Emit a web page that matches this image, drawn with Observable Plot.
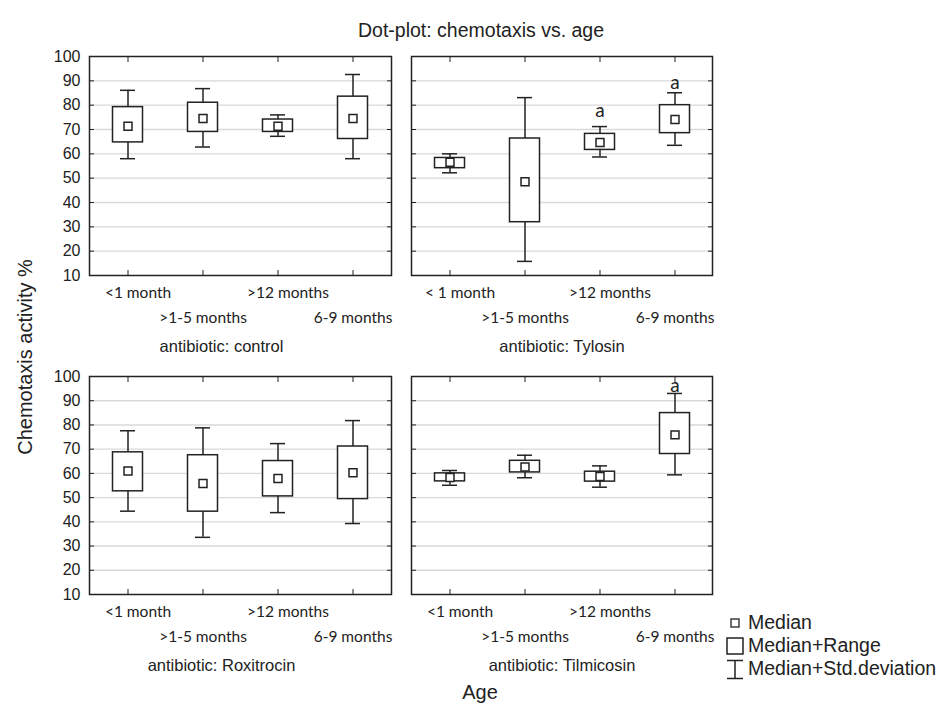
<!DOCTYPE html>
<html>
<head>
<meta charset="utf-8">
<script src="https://cdn.jsdelivr.net/npm/d3@7"></script>
<script src="https://cdn.jsdelivr.net/npm/@observablehq/plot@0.6"></script>
<style>
  html, body { margin: 0; padding: 0; background: #ffffff; }
  #wrap { position: relative; width: 945px; height: 714px; background: #ffffff; overflow: hidden;
          font-family: "Liberation Sans", Arial, sans-serif; color: #222; }
  .abs { position: absolute; }
  #title { left: 0; width: 962px; top: 19px; text-align: center; font-size: 19.5px; }
  #ylab { left: 25px; top: 357px; transform: translate(-50%, -50%) rotate(-90deg); font-size: 20px; white-space: nowrap; }
  #xlab { left: 480px; top: 692px; transform: translate(-50%, -50%); font-size: 20px; }
  #legend { left: 724px; top: 611px; font-size: 19.5px; line-height: 23px; }
  #legend div { display: flex; align-items: center; white-space: nowrap; }
  #legend svg { width: 22px; height: 22px; flex: none; }
</style>
</head>
<body>
<div id="wrap">
  <div id="title" class="abs">Dot-plot: chemotaxis vs. age</div>
  <div id="ylab" class="abs">Chemotaxis activity %</div>
  <div id="xlab" class="abs">Age</div>
  <div id="legend" class="abs"></div>
</div>
<script>
// ---- data ----
const categories = ["<1 month", ">1-5 months", ">12 months", "6-9 months"];
const antibiotics = ["control", "Tylosin", "Roxitrocin", "Tilmicosin"];
const medians      = [[71.3, 74.5, 71.3, 74.5], [56.5, 48.5, 64.7, 74.1], [61.0, 55.8, 57.9, 60.3], [58.3, 62.6, 58.7, 75.9]];
const rangeLow     = [[64.7, 69.0, 69.0, 66.1], [54.1, 31.9, 61.6, 68.5], [52.6, 44.2, 50.5, 49.4], [56.7, 60.4, 56.6, 68.0]];
const rangeHigh    = [[79.2, 81.0, 74.1, 83.5], [58.3, 66.3, 68.2, 80.0], [68.7, 67.5, 65.1, 71.1], [60.0, 65.2, 60.7, 84.9]];
const sdLow        = [[58.0, 62.8, 67.2, 58.0], [52.2, 15.8, 58.7, 63.5], [44.4, 33.6, 43.8, 39.3], [55.1, 58.2, 54.3, 59.4]];
const sdHigh       = [[86.1, 86.8, 76.0, 92.6], [60.0, 83.1, 71.2, 85.1], [77.6, 78.8, 72.3, 81.8], [61.2, 67.5, 63.1, 93.0]];
const letterPanel  = ["Tylosin", "Tylosin", "Tilmicosin"];
const letterCat    = [">12 months", "6-9 months", "6-9 months"];
const letterY      = [77.6, 89.0, 96.3];
const yTicks = [10, 20, 30, 40, 50, 60, 70, 80, 90, 100];
const gridTicks = [20, 30, 40, 50, 60, 70, 80, 90];

const catFont = "Lato, 'Open Sans', sans-serif";
const ink = "#222";

// panel layout
const layout = [
  {left: 0,   top: 40,  width: 400, ml: 89, mr: 9, height: 320, showY: true,  labDx: -19},
  {left: 400, top: 40,  width: 320, ml: 11, mr: 8, height: 320, showY: false, labDx: 0},
  {left: 0,   top: 360, width: 400, ml: 89, mr: 9, height: 319, showY: true,  labDx: -19},
  {left: 400, top: 360, width: 320, ml: 11, mr: 8, height: 319, showY: false, labDx: 0}
];

const wrap = document.getElementById("wrap");

antibiotics.forEach((ab, p) => {
  const L = layout[p];
  const rows = categories.map((c, i) => ({
    cat: c, med: medians[p][i], lo: rangeLow[p][i], hi: rangeHigh[p][i], sdl: sdLow[p][i], sdh: sdHigh[p][i]
  }));
  const letters = letterPanel.map((lp, i) => ({lp, cat: letterCat[i], y: letterY[i]})).filter(d => d.lp === ab);
  const fmt = (ab === "Tylosin") ? (d => d === "<1 month" ? "< 1 month" : d) : (d => d);
  const row1 = [categories[0], categories[2]];
  const row2 = [categories[1], categories[3]];

  const marks = [
    Plot.gridY(gridTicks, {stroke: "#d9d9d9", strokeOpacity: 1, strokeWidth: 1.4}),
    // inward ticks on all sides
    Plot.axisY(yTicks.slice(1, -1), {anchor: "left", tickSize: -5, tickFormat: () => "", label: null, stroke: ink}),
    Plot.axisY(yTicks.slice(1, -1), {anchor: "right", tickSize: -5, tickFormat: () => "", label: null, stroke: ink}),
    Plot.axisX(categories, {anchor: "bottom", tickSize: -5, tickFormat: () => "", label: null, stroke: ink}),
    Plot.axisX(categories, {anchor: "top", tickSize: -5, tickFormat: () => "", label: null, stroke: ink}),
    // category labels, staggered
    Plot.axisX(row1, {anchor: "bottom", tickSize: 0, tickPadding: 11, dx: 10, tickFormat: fmt, label: null,
      fontSize: 15.5, fontFamily: catFont, fill: ink}),
    Plot.axisX(row2, {anchor: "bottom", tickSize: 0, tickPadding: 36, tickFormat: fmt, label: null,
      fontSize: 15.5, fontFamily: catFont, fill: ink}),
    // whiskers (std. deviation)
    Plot.ruleX(rows, {x: "cat", y1: "sdl", y2: "sdh", stroke: ink, strokeWidth: 1.5}),
    Plot.tickY(rows, {x: "cat", y: "sdh", inset: 30, stroke: ink, strokeWidth: 1.5}),
    Plot.tickY(rows, {x: "cat", y: "sdl", inset: 30, stroke: ink, strokeWidth: 1.5}),
    // boxes (range)
    Plot.barY(rows, {x: "cat", y1: "lo", y2: "hi", insetLeft: 22.5, insetRight: 22.5, fill: "white", stroke: ink, strokeWidth: 1.5}),
    // medians
    Plot.dot(rows, {x: "cat", y: "med", symbol: "square", r: 4.5, fill: "white", stroke: ink, strokeWidth: 1.5}),
    // significance letters
    Plot.text(letters, {x: "cat", y: "y", text: () => "a", fontSize: 19, fontFamily: catFont, fill: ink}),
    Plot.frame({stroke: ink, strokeWidth: 1.5}),
    // panel label
    Plot.text(["antibiotic: " + ab], {frameAnchor: "bottom", dy: 76, dx: L.labDx, fontSize: 16.5,
      fontFamily: "'Liberation Sans', Arial, sans-serif", fill: ink})
  ];
  if (L.showY) {
    marks.push(Plot.axisY(yTicks, {anchor: "left", tickSize: 0, tickPadding: 9, label: null, fontSize: 16,
      fontFamily: "'Liberation Sans', Arial, sans-serif", fill: ink}));
  }

  const chart = Plot.plot({
    width: L.width,
    height: L.height,
    marginLeft: L.ml,
    marginRight: L.mr,
    marginTop: 16,
    marginBottom: 85,
    style: {background: "transparent", overflow: "visible"},
    x: {type: "band", domain: categories, padding: 0, axis: null, label: null},
    y: {domain: [10, 100], axis: null, label: null},
    marks
  });
  chart.style.position = "absolute";
  chart.style.left = L.left + "px";
  chart.style.top = L.top + "px";
  wrap.appendChild(chart);
});

// legend
const legendItems = ["Median", "Median+Range", "Median+Std.deviation"];
const icons = [
  '<rect x="7" y="7" width="8" height="8" fill="white" stroke="#222" stroke-width="1.3"/>',
  '<rect x="3" y="3" width="16" height="16" fill="white" stroke="#222" stroke-width="1.5"/>',
  '<path d="M3,2.5H19M11,2.5V20.5M3,20.5H19" fill="none" stroke="#222" stroke-width="1.5"/>'
];
const legend = document.getElementById("legend");
legendItems.forEach((t, i) => {
  const row = document.createElement("div");
  row.innerHTML = '<svg viewBox="0 0 22 22">' + icons[i] + '</svg><span style="margin-left:2px">' + t + '</span>';
  legend.appendChild(row);
});
</script>
</body>
</html>
